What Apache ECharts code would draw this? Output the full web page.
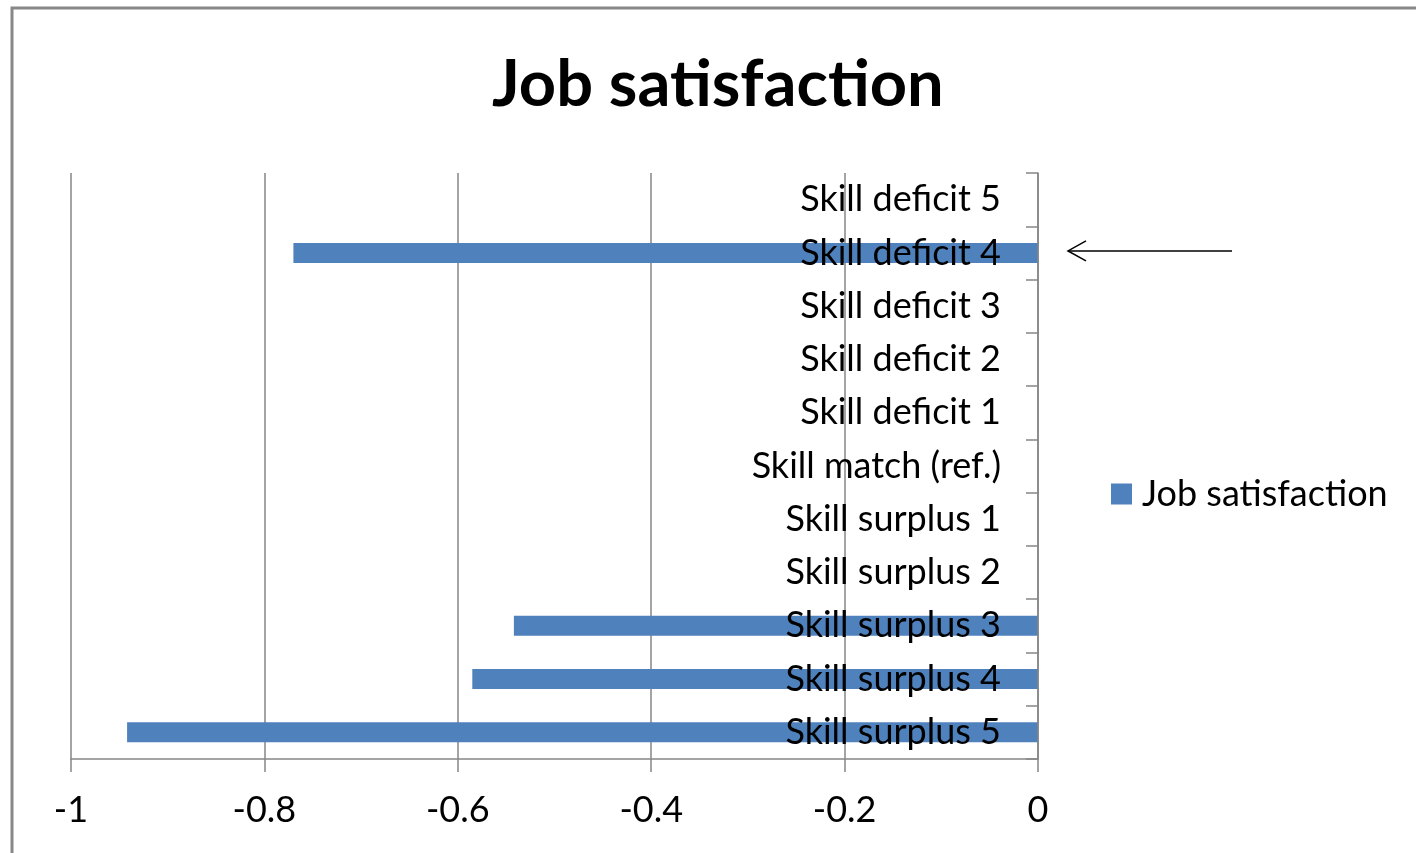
<!DOCTYPE html>
<html>
<head>
<meta charset="utf-8">
<script src="https://cdn.jsdelivr.net/npm/echarts@6/dist/echarts.min.js"></script>
<style>
  html, body { margin: 0; padding: 0; background: #fff; }
  #chart { width: 1416px; height: 853px; }
</style>
</head>
<body>
<div id="chart"></div>
<script>
// Categories listed top to bottom
const categories = [
  'Skill deficit 5', 'Skill deficit 4', 'Skill deficit 3', 'Skill deficit 2', 'Skill deficit 1',
  'Skill match (ref.)',
  'Skill surplus 1', 'Skill surplus 2', 'Skill surplus 3', 'Skill surplus 4', 'Skill surplus 5'
];
const seriesName = 'Job satisfaction';
const values = [0, -0.77, 0, 0, 0, 0, 0, 0, -0.542, -0.585, -0.942];
const xTicks = { min: -1, max: 0, interval: 0.2 };
const highlighted = 'Skill deficit 4';

const FONT = 'Lato';
const chart = echarts.init(document.getElementById('chart'), null, { renderer: 'canvas' });

chart.setOption({
  animation: false,
  backgroundColor: '#ffffff',
  title: {
    text: 'Job satisfaction',
    left: 487,
    top: 48,
    textStyle: { fontFamily: FONT, fontWeight: 'bold', fontSize: 65, color: '#000' }
  },
  legend: {
    data: [seriesName],
    orient: 'vertical',
    left: 1111,
    top: 476,
    padding: 0,
    icon: 'rect',
    itemWidth: 21,
    itemHeight: 21,
    itemGap: 10,
    textStyle: { fontFamily: FONT, fontSize: 36, color: '#000', padding: [0, 0, 0, 5] }
  },
  grid: { left: 71, right: 378, top: 173, bottom: 94, containLabel: false },
  xAxis: {
    type: 'value',
    min: xTicks.min,
    max: xTicks.max,
    interval: xTicks.interval,
    axisLine: { show: true, lineStyle: { color: '#868686', width: 1.5 } },
    axisTick: { show: true, length: 13, lineStyle: { color: '#868686', width: 1.5 } },
    axisLabel: { fontFamily: FONT, fontSize: 36, color: '#000', margin: 33 },
    splitLine: { show: true, lineStyle: { color: '#868686', width: 1.5 } }
  },
  yAxis: {
    type: 'category',
    data: categories,
    inverse: true,
    position: 'right',
    z: 5,
    axisLine: { show: true, onZero: false, lineStyle: { color: '#868686', width: 1.5 } },
    axisTick: { show: true, inside: true, length: 12, lineStyle: { color: '#868686', width: 1.5 } },
    axisLabel: { inside: true, margin: 37, fontFamily: FONT, fontSize: 36, color: '#000' },
    splitLine: { show: false }
  },
  series: [{
    name: seriesName,
    type: 'bar',
    data: values,
    barWidth: 20,
    itemStyle: { color: '#4F81BD' },
    z: 1
  }]
});

// Annotation arrow pointing at the highlighted row, just right of the zero axis
const [x0, yRow] = chart.convertToPixel({ xAxisIndex: 0, yAxisIndex: 0 }, [0, highlighted]);
const tipX = x0 + 30, tailX = x0 + 194;
chart.setOption({
  graphic: [
    {
      type: 'rect', silent: true,
      shape: { x: 12, y: 8, width: 1500, height: 1000 },
      style: { fill: 'none', stroke: '#888888', lineWidth: 3 }
    },
    {
      type: 'line', silent: true,
      shape: { x1: tipX, y1: yRow - 2, x2: tailX, y2: yRow - 2 },
      style: { stroke: '#000', lineWidth: 1.5 }
    },
    {
      type: 'polyline', silent: true,
      shape: { points: [[tipX + 18, yRow - 12], [tipX, yRow - 2], [tipX + 18, yRow + 8]] },
      style: { stroke: '#000', lineWidth: 1.5, fill: 'none' }
    }
  ]
});
</script>
</body>
</html>
